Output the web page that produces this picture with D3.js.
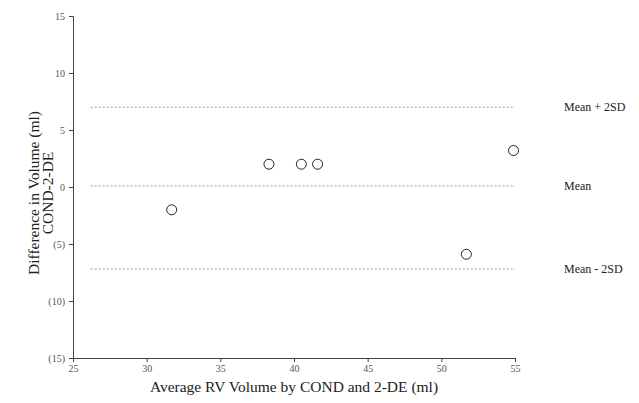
<!DOCTYPE html>
<html>
<head>
<meta charset="utf-8">
<script src="https://cdn.jsdelivr.net/npm/d3@7"></script>
<style>
  body { margin: 0; background: #fff; }
  svg { font-family: "Liberation Serif", "DejaVu Serif", serif; }
  .axis path, .axis line { stroke: #444; }
  .axis text { fill: #555; font-size: 10px; font-family: "Liberation Serif", serif; }
</style>
</head>
<body>
<svg width="639" height="403"></svg>
<script>
// Bland-Altman points: average volume vs difference
var avgVolume = [31.7, 38.3, 40.5, 41.6, 51.7, 54.9];
var diffVolume = [-2.0, 2.0, 2.0, 2.0, -5.9, 3.2];

var limitNames = ["Mean + 2SD", "Mean", "Mean - 2SD"];
var limitValues = [7.0, 0.1, -7.2];

var xTicks = [25, 30, 35, 40, 45, 50, 55];
var yTicks = [15, 10, 5, 0, -5, -10, -15];

var svg = d3.select("svg");

var x = d3.scaleLinear().domain([25, 55]).range([73, 515]);
var y = d3.scaleLinear().domain([-15, 15]).range([358, 16]);

// y labels use accounting style for negatives
function yfmt(d) {
    return d < 0 ? "(" + Math.abs(d) + ")" : String(d);
}

svg.append("g")
    .attr("class", "axis")
    .attr("transform", "translate(" + x(25) + ",0)")
    .call(d3.axisLeft(y).tickValues(yTicks).tickFormat(yfmt).tickSize(4).tickSizeOuter(4))
    .call(g => g.selectAll("text").attr("dx", "-1"));

svg.append("g")
    .attr("class", "axis")
    .attr("transform", "translate(0," + y(-15) + ")")
    .call(d3.axisBottom(x).tickValues(xTicks).tickFormat(d3.format("d")).tickSize(4).tickSizeOuter(4));

// mean and limit lines
var lim = svg.append("g");
limitValues.forEach((v, i) => {
    lim.append("line")
        .attr("x1", x(26.2)).attr("x2", x(55))
        .attr("y1", y(v)).attr("y2", y(v))
        .attr("stroke", "#999")
        .attr("stroke-width", 1)
        .attr("stroke-dasharray", "2,2");
    lim.append("text")
        .attr("x", 564)
        .attr("y", y(v) + 4)
        .attr("font-size", 12)
        .attr("fill", "#222")
        .text(limitNames[i]);
});

// points
svg.append("g").selectAll("circle")
    .data(avgVolume)
    .join("circle")
    .attr("cx", (d, i) => x(d))
    .attr("cy", (d, i) => y(diffVolume[i]))
    .attr("r", 5)
    .attr("fill", "none")
    .attr("stroke", "#222")
    .attr("stroke-width", 1);

// titles
svg.append("text")
    .attr("x", 294).attr("y", 392)
    .attr("text-anchor", "middle")
    .attr("font-size", 15.5)
    .attr("fill", "#222")
    .text("Average RV Volume by COND and 2-DE (ml)");

var yt = svg.append("text")
    .attr("transform", "translate(39,193) rotate(-90)")
    .attr("text-anchor", "middle")
    .attr("font-size", 15.5)
    .attr("fill", "#222");
yt.append("tspan").attr("x", 0).attr("dy", 0).text("Difference in Volume (ml)");
yt.append("tspan").attr("x", 0).attr("dy", 14).text("COND-2-DE");
</script>
</body>
</html>
